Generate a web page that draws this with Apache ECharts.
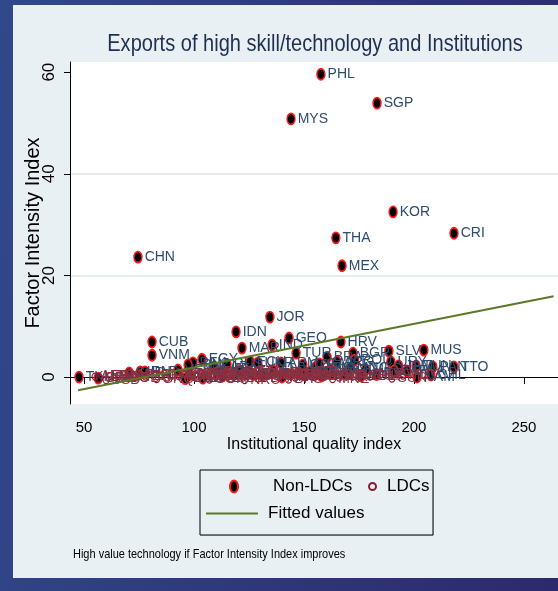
<!DOCTYPE html>
<html>
<head>
<meta charset="utf-8">
<script src="https://cdn.jsdelivr.net/npm/echarts@6/dist/echarts.min.js"></script>
<style>
  html, body { margin: 0; padding: 0; }
  body {
    width: 558px; height: 591px; position: relative; overflow: hidden;
    background: linear-gradient(100deg, #30498b 0%, #2f357a 60%, #2c2a6c 100%);
  }
  #panel { position: absolute; left: 13px; top: 5px; width: 545px; height: 573px; background: #e8f0f3; }
  #chart { position: absolute; left: 0; top: 0; width: 558px; height: 591px; }
</style>
</head>
<body>
<div id="panel"></div>
<div id="chart"></div>
<script>
// Non-LDC countries (black dots, navy labels)
const nonLdcCodes = ['PHL', 'SGP', 'MYS', 'KOR', 'CRI', 'THA', 'CHN', 'MEX', 'JOR', 'IDN',
  'GEO', 'CUB', 'HRV', 'IND', 'MAR', 'MUS', 'SLV', 'TUR', 'VNM', 'BGR',
  'BRA', 'ROU', 'EGY', 'ARG', 'URY', 'ECU', 'PAK', 'UKR', 'ARM', 'LBN',
  'COL', 'JAM', 'TUN', 'KAZ', 'PAN', 'TTO', 'VEN', 'GTM', 'MKD', 'KEN',
  'BWA', 'ZAF', 'ALB', 'IRN', 'BLR', 'SYR', 'NGA', 'PER', 'DOM', 'GHA',
  'FJI', 'CHL', 'LKA', 'PRY', 'HND', 'BOL', 'TKM', 'UZB', 'NAM', 'ZWE',
  'NIC', 'CMR', 'CIV', 'DZA', 'AZE', 'RUS', 'PNG', 'SWZ', 'GAB', 'COG', 'MNG', 'MDA'];
const nonLdcX = [157.7, 183.2, 144.1, 190.5, 218.2, 164.5, 74.5, 167.3, 134.5, 119.1,
  143.2, 80.9, 166.8, 135.5, 121.8, 204.5, 188.6, 146.4, 80.9, 172.3,
  160.5, 173.0, 103.6, 165.0, 189.5, 125.5, 99.5, 129.0, 139.5, 97.3,
  149.5, 193.0, 201.0, 109.0, 208.6, 218.2, 92.7, 155.0, 178.0, 114.0,
  196.8, 191.0, 136.0, 75.5, 77.7, 70.5, 110.5, 147.3, 168.6, 118.0,
  183.0, 207.7, 150.5, 131.0, 158.0, 176.0, 47.7, 56.4, 201.4, 104.0,
  153.0, 127.0, 121.0, 113.0, 98.0, 115.0, 140.0, 162.0, 157.0, 96.0, 171.0, 159.0];
const nonLdcY = [59.6, 53.9, 50.8, 32.5, 28.3, 27.4, 23.6, 21.9, 11.8, 8.9,
  7.7, 6.9, 6.9, 6.3, 5.7, 5.3, 5.1, 4.7, 4.3, 4.7,
  3.9, 3.3, 3.5, 3.0, 3.0, 3.0, 2.8, 2.8, 2.8, 2.4,
  2.4, 2.2, 2.2, 2.0, 2.0, 2.0, 1.4, 1.8, 1.5, 1.5,
  1.2, 1.2, 1.2, 1.0, 1.0, 0.8, 0.8, 0.8, 0.6, 0.5,
  0.5, 0.4, 0.4, 0.3, 0.2, 0.2, 0.0, -0.2, 0.0, -0.2,
  1.0, 0.5, 1.2, 0.2, 0.5, 2.5, 0.0, 1.4, 2.6, -0.3, 1.8, 0.9];

// LDC countries (hollow maroon circles, maroon labels)
const ldcCodes = ['AFG', 'SOM', 'TCD', 'SDN', 'CAF', 'COD', 'MMR', 'ERI', 'GNB', 'HTI',
  'YEM', 'AGO', 'LAO', 'BDI', 'GIN', 'NER', 'KHM', 'TGO', 'COM', 'MRT',
  'BGD', 'ETH', 'NPL', 'SLE', 'LBR', 'MOZ', 'MLI', 'TZA', 'UGA', 'RWA',
  'BFA', 'MDG', 'MWI', 'BEN', 'ZMB', 'SEN', 'LSO', 'GMB', 'DJI', 'BTN',
  'STP', 'SLB', 'VUT', 'KIR', 'TLS', 'WSM', 'TUV', 'CPV', 'MDV', 'SSD',
  'GNQ', 'NRU', 'BHS', 'MNE', 'SUR'];
const ldcX = [55, 57, 62, 64, 66, 68, 72, 78, 85, 88,
  90, 93, 95, 97, 99, 101, 103, 106, 107, 109,
  111, 113, 115, 117, 119, 121, 124, 126, 128, 130,
  132, 134, 136, 139, 141, 144, 146, 148, 151, 153,
  155, 158, 162, 166, 170, 175, 180, 185, 195, 60,
  83, 123, 143, 163, 190];
const ldcY = [0.1, -0.3, 0.2, 0.0, 0.3, -0.2, 0.4, 0.1, 0.3, -0.1,
  0.5, 0.2, 0.6, -0.2, 0.3, 0.1, 0.8, 0.2, -0.5, 0.4,
  0.9, 0.1, 0.3, -0.3, 0.2, 0.5, 0.4, 1.0, 0.2, 0.6,
  -0.2, 0.3, 0.5, 0.2, 0.7, 0.4, -0.1, 0.2, 0.3, 0.9,
  0.1, 0.4, 0.2, -0.1, 0.3, 0.2, 0.1, 0.6, 0.3, -0.6,
  -0.4, -0.6, -0.5, -0.4, -0.3];

const fitX = [47.3, 263.5];
const fitY = [-2.6, 15.9];

const xTicks = [50, 100, 150, 200, 250];
const yTicks = [0, 20, 40, 60];

const sans = '"Liberation Sans", Arial, sans-serif';
const navy = '#2d4b6f';
const maroon = '#8a3242';
const green = '#5a7a2a';

const nonLdcData = nonLdcCodes.map((c, i) => ({ name: c, value: [nonLdcX[i], nonLdcY[i]] }));
const ldcData = ldcCodes.map((c, i) => ({ name: c, value: [ldcX[i], ldcY[i]] }));
const fitData = fitX.map((x, i) => [x, fitY[i]]);

const chart = echarts.init(document.getElementById('chart'), null, { renderer: 'canvas' });

const ellipse = 'path://M4,0C6.2,0,8,2.7,8,6C8,9.3,6.2,12,4,12C1.8,12,0,9.3,0,6C0,2.7,1.8,0,4,0Z';

const option = {
  animation: false,
  legend: [
    {
      data: [{ name: 'Non-LDCs', icon: ellipse }],
      left: 229, top: 478, padding: 0, itemWidth: 8, itemHeight: 12,
      selectedMode: false,
      textStyle: { fontFamily: sans, fontSize: 17, color: '#000', padding: [0, 0, 0, 30] }
    },
    {
      data: [{ name: 'LDCs', icon: 'circle' }],
      left: 368, top: 478, padding: 0, itemWidth: 7, itemHeight: 7,
      selectedMode: false,
      textStyle: { fontFamily: sans, fontSize: 17, color: '#000', padding: [0, 0, 0, 6] }
    },
    {
      data: [{ name: 'Fitted values', icon: 'rect' }],
      left: 206, top: 505, padding: 0, itemWidth: 52, itemHeight: 2,
      selectedMode: false,
      textStyle: { fontFamily: sans, fontSize: 17, color: '#000', padding: [0, 0, 0, 5] }
    }
  ],
  graphic: [
    {
      type: 'text', x: 315, y: 44, scaleX: 0.835,
      style: {
        text: 'Exports of high skill/technology and Institutions',
        fontFamily: sans, fontSize: 24, fill: '#1f2f52', align: 'center', verticalAlign: 'middle'
      }
    },
    {
      type: 'text', x: 73, y: 554, scaleX: 0.845,
      style: {
        text: 'High value technology if Factor Intensity Index improves',
        fontFamily: sans, fontSize: 13, fill: '#000', align: 'left', verticalAlign: 'middle'
      }
    },
    { type: 'rect', shape: { x: 201, y: 471, width: 233, height: 65 }, style: { fill: '#c9d0d4' }, z: -1 },
    { type: 'rect', shape: { x: 200, y: 470, width: 233, height: 65 }, style: { fill: '#e8f0f3', stroke: '#000', lineWidth: 1 }, z: 0 }
  ],
  grid: { left: 70, top: 62, right: 0, bottom: 187, show: true, backgroundColor: '#fff', borderWidth: 0 },
  xAxis: {
    type: 'value', min: 43.6, max: 265.5,
    name: 'Institutional quality index', nameLocation: 'middle', nameGap: 33, nameMoveOverlap: false,
    nameTextStyle: { fontFamily: sans, fontSize: 16, color: '#000' },
    axisLine: { lineStyle: { color: '#000', width: 1 } },
    axisTick: { customValues: xTicks, length: 7, lineStyle: { color: '#000' } },
    axisLabel: { customValues: xTicks, margin: 16, fontFamily: sans, fontSize: 15, color: '#000' },
    splitLine: { show: false }
  },
  yAxis: {
    type: 'value', min: -5.3, max: 62, splitNumber: 3,
    name: 'Factor Intensity Index', nameLocation: 'middle', nameRotate: 90, nameGap: 27, nameMoveOverlap: false,
    nameTextStyle: { fontFamily: sans, fontSize: 20, color: '#000' },
    axisLine: { show: true, lineStyle: { color: '#000', width: 1 } },
    axisTick: { show: true, customValues: yTicks, length: 6, lineStyle: { color: '#000' } },
    axisLabel: { customValues: yTicks, rotate: 90, margin: 12, fontFamily: sans, fontSize: 17, color: '#000' },
    splitLine: { show: true, showMinLine: false, showMaxLine: false, lineStyle: { color: '#e3ecf0', width: 2 } }
  },
  series: [
    {
      name: 'Non-LDCs', type: 'scatter', data: nonLdcData,
      symbol: 'circle', symbolSize: [8, 11],
      itemStyle: { color: '#000', borderColor: '#ff1a1a', borderWidth: 1.6, opacity: 1 },
      label: { show: true, formatter: '{b}', position: 'right', distance: 2, fontFamily: sans, fontSize: 14, color: navy }
    },
    {
      name: 'LDCs', type: 'scatter', data: ldcData, z: 3,
      symbol: 'circle', symbolSize: [6, 7],
      itemStyle: { color: 'rgba(0,0,0,0)', borderColor: '#8b1a2c', borderWidth: 1.2, opacity: 1 },
      label: { show: true, formatter: '{b}', position: 'right', distance: 2, fontFamily: sans, fontSize: 14, color: maroon }
    },
    {
      name: 'Fitted values', type: 'line', data: fitData,
      symbol: 'none', color: green,
      lineStyle: { color: green, width: 2 },
      z: 5
    }
  ]
};

chart.setOption(option);
</script>
</body>
</html>
